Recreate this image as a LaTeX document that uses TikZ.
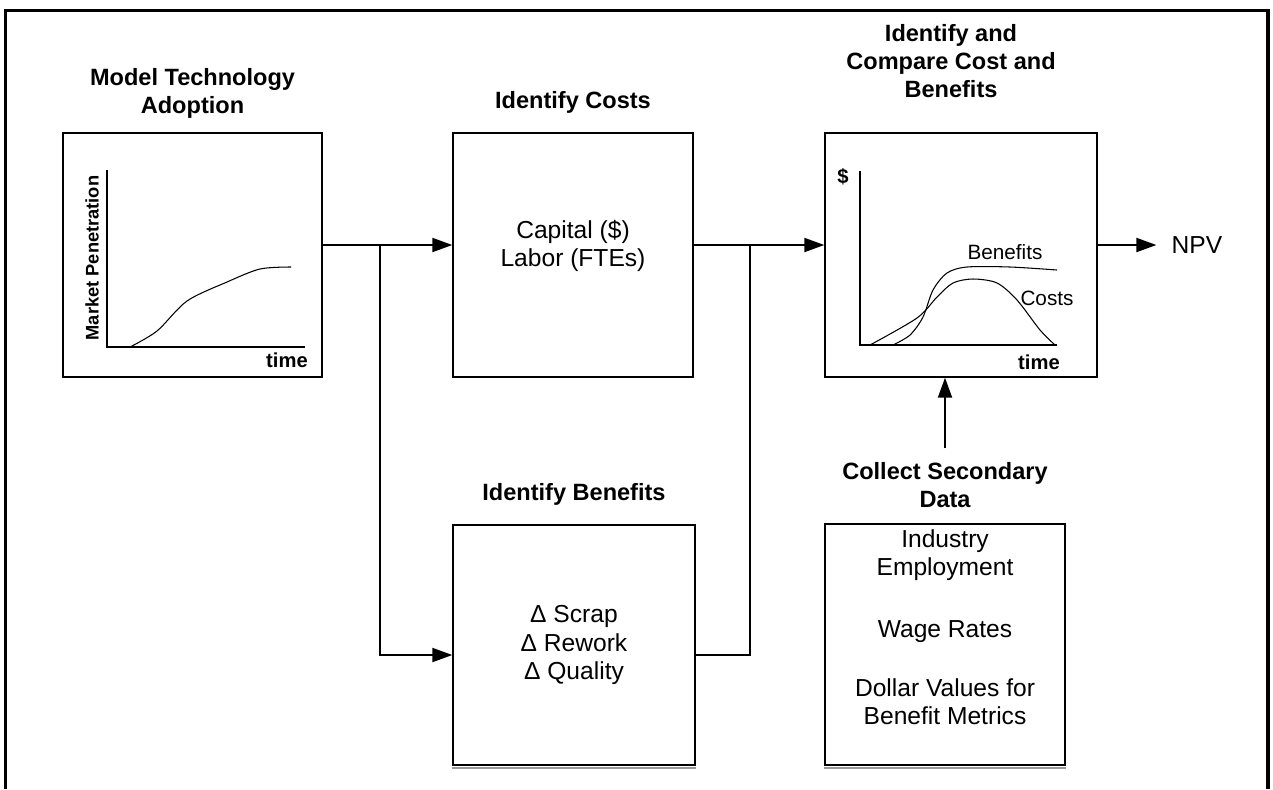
\documentclass[tikz,border=0pt]{standalone}
\usepackage{fontspec}
\setmainfont{Liberation Sans}
\usetikzlibrary{arrows.meta, positioning}

\begin{document}
\begin{tikzpicture}[x=0.02cm, y=-0.02cm, >={Triangle[length=0.4cm,width=0.28cm]},
  box/.style={draw, line width=0.8pt, inner sep=0pt},
  title/.style={font=\fontsize{13.4}{16}\selectfont\bfseries, align=center, inner sep=0pt, text depth=0pt},
  body/.style={font=\fontsize{14}{16.2}\selectfont, align=center, inner sep=0pt},
  axis/.style={line width=1.1pt},
  curve/.style={line width=0.6pt},
  plotlbl/.style={font=\fontsize{11.5}{13}\selectfont\bfseries, inner sep=0pt},
  flow/.style={line width=1.1pt, ->},
  link/.style={line width=1.1pt},
  shade/.style={black!40, line width=0.7pt}]
\useasboundingbox (0,0) rectangle (1273,789);
\draw[line width=2pt] (5.5,789) -- (5.5,10.5) -- (1268,10.5) -- (1268,789);

\node[box, minimum width=5.18cm, minimum height=4.88cm] (adopt) at (192.5,255) {};
\node[box, minimum width=4.8cm, minimum height=4.88cm] (costs) at (573,255) {};
\node[box, minimum width=5.44cm, minimum height=4.88cm] (compare) at (961,255) {};
\node[box, body, minimum width=4.84cm, minimum height=4.8cm] (benef) at (574,645) {Δ Scrap\\Δ Rework\\Δ Quality};
\node[box, minimum width=4.8cm, minimum height=4.82cm] (secdata) at (945,644.5) {};
\draw[shade] ([yshift=-1.3pt]benef.south west) -- ([yshift=-1.3pt]benef.south east);
\draw[shade] ([yshift=-1.3pt]secdata.south west) -- ([yshift=-1.3pt]secdata.south east);

\node[title, above=0.36cm of adopt] (adopttitle) {Model Technology\\Adoption};
\node[title, above=0.46cm of costs] (coststitle) {Identify Costs};
\node[title, above=0.68cm of compare, xshift=-0.2cm] (comparetitle) {Identify and\\Compare Cost and\\Benefits};
\node[title, above=0.46cm of benef] (beneftitle) {Identify Benefits};
\node[title, above=0.3cm of secdata] (sectitle) {Collect Secondary\\Data};

\node[body] (coststxt) at ([yshift=0.18cm]costs.center) {Capital (\$)\\Labor (FTEs)};
\node[body, below=0.12cm of secdata.north] (sectxt) {Industry\\Employment\\[19pt]Wage Rates\\[17pt]Dollar Values for\\Benefit Metrics};

\draw[axis] (107,170) -- (107,347) -- (305,347);
\draw[curve] plot[smooth] coordinates {(130,347) (157,331) (187,301) (227,282) (260,269) (291,267)};
\node[font=\fontsize{10.4}{12}\selectfont\bfseries, rotate=90, inner sep=0pt] (mktpen) at (92,258) {Market Penetration};
\node[plotlbl] (timeleft) at (287,360) {time};

\draw[axis] (860,171) -- (860,345) -- (1057,345);
\draw[curve] plot[smooth] coordinates {(870,345) (917,318) (937,297) (953,283) (973,279) (997,283) (1017,300) (1040,330) (1055,345)};
\draw[curve] plot[smooth] coordinates {(893,345) (910,335) (923,317) (933,290) (947,273) (967,267) (1010,267) (1057,270)};
\node[plotlbl] (dollar) at (843,177) {\$};
\node[plotlbl] (timeright) at (1039,362) {time};
\node[font=\fontsize{11.8}{13}\selectfont, inner sep=0pt] (benlbl) at (1005,252) {Benefits};
\node[font=\fontsize{11.8}{13}\selectfont, inner sep=0pt] (costlbl) at (1047,298) {Costs};

\node[body] (npv) at (1197,245) {NPV};

\coordinate (split) at (380,245);
\coordinate (merge) at (750,245);
\draw[flow] ([yshift=0.2cm]adopt.east) -- ([yshift=0.2cm]costs.west);
\draw[flow] (split) |- ([yshift=-0.2cm]benef.west);
\draw[flow] ([yshift=0.2cm]costs.east) -- ([yshift=0.2cm]compare.west);
\draw[link] ([yshift=-0.2cm]benef.east) -| (merge);
\draw[flow, shorten >=0.3cm] ([yshift=0.2cm]compare.east) -- (npv.west);
\draw[flow, shorten <=0.28cm] (sectitle.north) -- (sectitle.north |- compare.south);
\end{tikzpicture}
\end{document}
